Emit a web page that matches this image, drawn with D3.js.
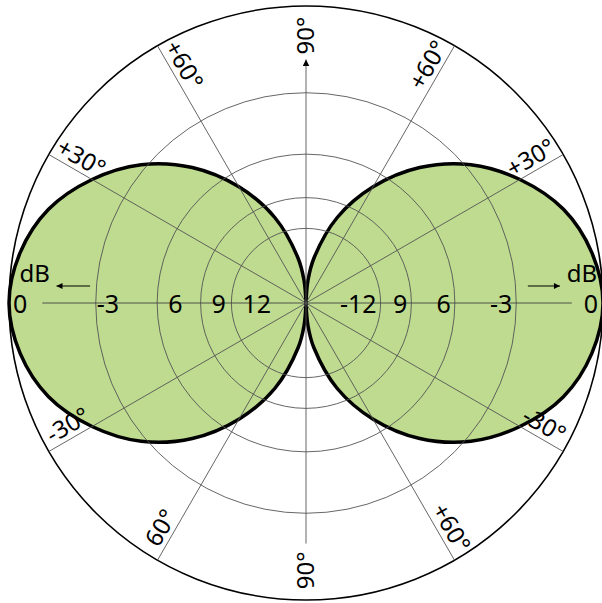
<!DOCTYPE html>
<html>
<head>
<meta charset="utf-8">
<script src="https://cdn.jsdelivr.net/npm/d3@7"></script>
<style>
  body { margin: 0; background: #fff; }
  text { font-family: "Noto Sans", "Open Sans", sans-serif; fill: #000; }
</style>
</head>
<body>
<div id="polar_visual"></div>
<script>
// ring levels (dB) and their labels on each side of the horizontal axis
var ringDb = [0, -3, -6, -9, -12];
var leftRingLabels = ["0", "-3", "6", "9", "12"];
var rightRingLabels = ["0", "-3", "6", "9", "-12"];

// spokes and their labels (degrees, counter-clockwise from the right)
var spokeAngles = [30, 60, 120, 150, 210, 240, 300, 330];
var labelAngles = [30, 60, 90, 120, 150, 210, 240, 270, 300, 330];
var labelTexts = ["+30°", "+60°", "90°", "+60°", "+30°", "-30°", "60°", "90°", "+60°", "-30°"];

// lobe pattern: angle from the lobe axis (deg) -> level (dB)
var lobeAngles = [-90, -85, -80, -70, -60, -50, -40, -30, -20, -10, 0, 10, 20, 30, 40, 50, 60, 70, 80, 85, 90];
var lobeDb = [-60, -22.3, -16.3, -10.3, -6.9, -4.5, -2.8, -1.6, -0.7, -0.2, 0, -0.2, -0.7, -1.6, -2.8, -4.5, -6.9, -10.3, -16.3, -22.3, -60];
var lobeAxes = [0, 180];

var width = 602, height = 603,
    cx = 306, cy = 303, R = 297;

// amplitude scale: radius is linear in amplitude, 3 dB per ring
var rScale = d3.scaleLinear().domain([0, 1]).range([0, R]);
var rad = function (db) { return rScale(Math.pow(10, db / 20)); };
var toRad = function (deg) { return deg * Math.PI / 180; };
var px = function (deg, r) { return cx + r * Math.cos(toRad(deg)); };
var py = function (deg, r) { return cy - r * Math.sin(toRad(deg)); };

var svg = d3.select("#polar_visual")
    .append("svg")
    .attr("width", width)
    .attr("height", height);

var defs = svg.append("defs");
defs.append("marker")
    .attr("id", "headBig")
    .attr("viewBox", "0 0 10 10")
    .attr("refX", 10).attr("refY", 5)
    .attr("markerWidth", 7).attr("markerHeight", 7)
    .attr("markerUnits", "userSpaceOnUse")
    .attr("orient", "auto")
    .append("path").attr("d", "M0,0 L10,5 L0,10 Z").attr("fill", "#000");
defs.append("marker")
    .attr("id", "headSmall")
    .attr("viewBox", "0 0 10 10")
    .attr("refX", 10).attr("refY", 5)
    .attr("markerWidth", 7).attr("markerHeight", 6)
    .attr("markerUnits", "userSpaceOnUse")
    .attr("orient", "auto")
    .append("path").attr("d", "M0,0 L10,5 L0,10 Z").attr("fill", "#000");

// Lobes (fill)
var lobeLine = d3.lineRadial()
    .angle(function (d) { return Math.PI / 2 - toRad(d.a); })
    .radius(function (d) { return rad(d.db); })
    .curve(d3.curveCatmullRomClosed);

var g = svg.append("g").attr("transform", "translate(" + cx + "," + cy + ")");

var lobes = lobeAxes.map(function (axis) {
    return lobeAngles.map(function (a, i) { return { a: axis + a, db: lobeDb[i] }; });
});

g.selectAll(".lobeFill")
    .data(lobes)
    .enter()
    .append("path")
    .attr("class", "lobeFill")
    .attr("d", lobeLine)
    .attr("fill", "#bedb8f")
    .attr("stroke", "none");

// rings
svg.selectAll(".ring")
    .data(ringDb.slice(1))
    .enter()
    .append("circle")
    .attr("class", "ring")
    .attr("cx", cx).attr("cy", cy)
    .attr("r", function (d) { return rad(d); })
    .attr("fill", "none")
    .attr("stroke", "#555")
    .attr("stroke-width", 0.9);

svg.append("circle")
    .attr("cx", cx).attr("cy", cy)
    .attr("r", rad(0))
    .attr("fill", "none")
    .attr("stroke", "#000")
    .attr("stroke-width", 1.6);

// spokes
svg.selectAll(".spoke")
    .data(spokeAngles)
    .enter()
    .append("line")
    .attr("class", "spoke")
    .attr("x1", cx).attr("y1", cy)
    .attr("x2", function (d) { return px(d, R); })
    .attr("y2", function (d) { return py(d, R); })
    .attr("stroke", "#555")
    .attr("stroke-width", 0.9);

// horizontal axis
svg.append("line")
    .attr("x1", px(180, R * 0.888)).attr("y1", cy)
    .attr("x2", px(0, R * 0.895)).attr("y2", cy)
    .attr("stroke", "#444").attr("stroke-width", 0.9);

// vertical axis with arrow at top
svg.append("line")
    .attr("x1", cx).attr("y1", py(270, R * 0.81))
    .attr("x2", cx).attr("y2", py(90, R * 0.82))
    .attr("stroke", "#555").attr("stroke-width", 0.9)
    .attr("marker-end", "url(#headBig)");

// lobe outlines
g.selectAll(".lobeEdge")
    .data(lobes)
    .enter()
    .append("path")
    .attr("class", "lobeEdge")
    .attr("d", lobeLine)
    .attr("fill", "none")
    .attr("stroke", "#000")
    .attr("stroke-width", 3.5);

// ring labels
svg.selectAll(".leftLabel")
    .data(ringDb)
    .enter()
    .append("text")
    .attr("class", "leftLabel")
    .attr("x", function (d, i) {
        var t = leftRingLabels[i];
        return cx - rad(d) + (t.charAt(0) === "-" ? 1 : (d === 0 ? 4 : 11));
    })
    .attr("y", cy + 10)
    .attr("text-anchor", "start")
    .style("font-size", "25px")
    .text(function (d, i) { return leftRingLabels[i]; });

svg.selectAll(".rightLabel")
    .data(ringDb)
    .enter()
    .append("text")
    .attr("class", "rightLabel")
    .attr("x", function (d) { return cx + rad(d) - (d === 0 ? 5 : 4); })
    .attr("y", cy + 10)
    .attr("text-anchor", "end")
    .style("font-size", "25px")
    .text(function (d, i) { return rightRingLabels[i]; });

// dB markers with arrows
svg.append("text")
    .attr("x", cx - R * 0.965).attr("y", cy - 21)
    .attr("text-anchor", "start")
    .style("font-size", "24px")
    .text("dB");
svg.append("line")
    .attr("x1", cx - R * 0.727).attr("y1", cy - 17)
    .attr("x2", cx - R * 0.84).attr("y2", cy - 17)
    .attr("stroke", "#000").attr("stroke-width", 1.1)
    .attr("marker-end", "url(#headSmall)");

svg.append("text")
    .attr("x", cx + R * 0.98).attr("y", cy - 21)
    .attr("text-anchor", "end")
    .style("font-size", "24px")
    .text("dB");
svg.append("line")
    .attr("x1", cx + R * 0.747).attr("y1", cy - 17)
    .attr("x2", cx + R * 0.855).attr("y2", cy - 17)
    .attr("stroke", "#000").attr("stroke-width", 1.1)
    .attr("marker-end", "url(#headSmall)");

// angle labels, rotated along their spoke
var rotFor = function (a) {
    var r = -a;
    while (r < -90) r += 180;
    while (r >= 90) r -= 180;
    return r;
};

svg.selectAll(".angleLabel")
    .data(labelAngles)
    .enter()
    .append("text")
    .attr("class", "angleLabel")
    .attr("transform", function (d) {
        return "translate(" + px(d, R * 0.9) + "," + py(d, R * 0.9) + ") rotate(" + rotFor(d) + ")";
    })
    .attr("y", function (d) { return (d === 90 || d === 270) ? 8 : -5; })
    .attr("text-anchor", "middle")
    .style("font-size", "24px")
    .text(function (d, i) { return labelTexts[i]; });
</script>
</body>
</html>
